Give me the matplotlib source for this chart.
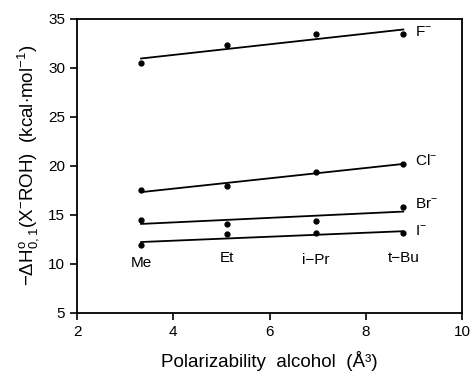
import matplotlib
matplotlib.use("Agg")
import matplotlib.pyplot as plt
import numpy as np

plt.rcParams['font.family'] = ['Liberation Sans', 'DejaVu Sans']
plt.rcParams['mathtext.fontset'] = 'custom'
plt.rcParams['mathtext.rm'] = 'Liberation Sans'
plt.rcParams['mathtext.it'] = 'Liberation Sans'
plt.rcParams['mathtext.bf'] = 'Liberation Sans'

# -----------------------------
# Data
# -----------------------------
alcohols = ["Me", "Et", "i\u2212Pr", "t\u2212Bu"]
polarizability = [3.33, 5.11, 6.97, 8.78]

ions = ["F$^{-}$", "Cl$^{-}$", "Br$^{-}$", "I$^{-}$"]
dH_F = [30.5, 32.3, 33.5, 33.4]
dH_Cl = [17.5, 17.9, 19.4, 20.2]
dH_Br = [14.5, 14.1, 14.4, 15.8]
dH_I = [11.9, 13.0, 13.1, 13.1]
series = [dH_F, dH_Cl, dH_Br, dH_I]

fig = plt.figure(figsize=(4.7, 3.76), dpi=100)
ax = fig.add_axes([0.164, 0.168, 0.819, 0.782])

x = np.array(polarizability)
for name, y in zip(ions, series):
    y = np.array(y)
    ax.plot(x, y, "o", color="black", markersize=3.5)
    # least-squares line through each halide series
    k, b = np.polyfit(x, y, 1)
    ax.plot(x[[0, -1]], k * x[[0, -1]] + b, color="black", lw=1.3)
    ax.text(x[-1] + 0.25, y[-1] + 0.3, name, fontsize=11, va="center", ha="left")

label_y = [10.1, 10.6, 10.4, 10.6]
for lab, xp, yp in zip(alcohols, polarizability, label_y):
    ax.text(xp, yp, lab, fontsize=11, ha="center", va="center")

ax.set_xlim(2, 10)
ax.set_ylim(5, 35)
ax.set_xticks([2, 4, 6, 8, 10])
ax.set_yticks([5, 10, 15, 20, 25, 30, 35])
ax.tick_params(direction="out", length=5, width=1.2, labelsize=11)
for s in ax.spines.values():
    s.set_linewidth(1.3)

ax.set_xlabel("Polarizability  alcohol  (\u00c5\u00b3)", fontsize=13.5, labelpad=9)
ax.set_ylabel(r"$-\Delta$H$^{\rm o}_{0,1}$(X$^{-}$ROH)  (kcal$\cdot$mol$^{-1}$)",
              fontsize=13.5, labelpad=5)

fig.savefig("out.png", dpi=100)
